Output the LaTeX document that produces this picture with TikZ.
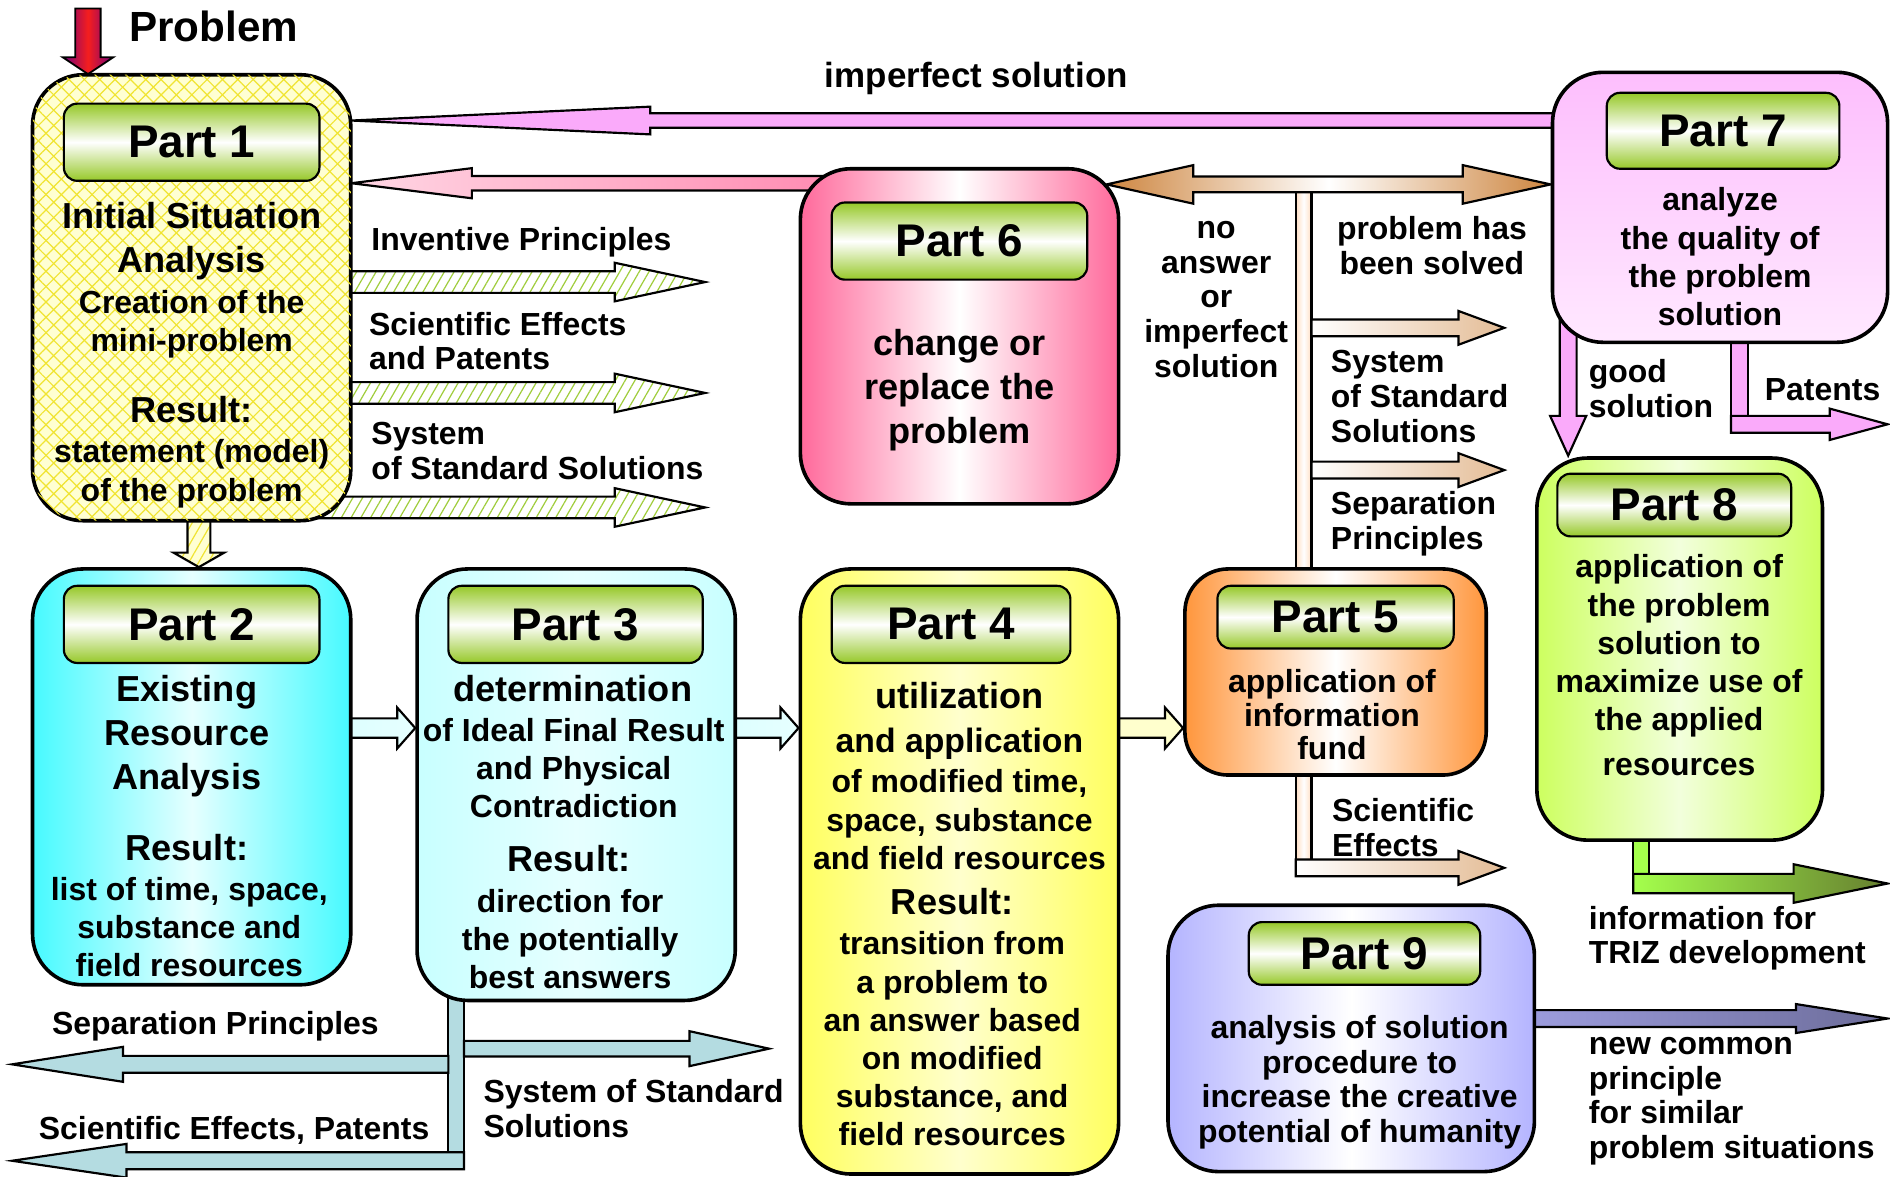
\documentclass[tikz,border=0pt]{standalone}
\usepackage{fontspec}
\setmainfont{Liberation Sans}
\usetikzlibrary{calc, positioning, patterns.meta}
\pgfdeclarelayer{bg}
\pgfsetlayers{bg,main}
\definecolor{tagreen}{RGB}{150,200,40}
\definecolor{paleyel}{RGB}{255,255,210}
\definecolor{hatchyel}{RGB}{240,228,50}
\definecolor{hatchgrn}{RGB}{160,205,60}
\definecolor{cyanside}{RGB}{70,250,255}
\definecolor{cyanmid}{RGB}{230,255,255}
\definecolor{cyanpale}{RGB}{200,255,255}
\definecolor{yelside}{RGB}{255,255,95}
\definecolor{yelmid}{RGB}{255,255,205}
\definecolor{orside}{RGB}{255,150,60}
\definecolor{pinkside}{RGB}{255,105,155}
\definecolor{vioside}{RGB}{253,190,253}
\definecolor{viomid}{RGB}{255,232,255}
\definecolor{limeside}{RGB}{205,255,95}
\definecolor{limemid}{RGB}{242,255,220}
\definecolor{lavside}{RGB}{180,180,255}
\definecolor{arrvio}{RGB}{250,170,250}
\definecolor{arrpink}{RGB}{255,120,165}
\definecolor{peru}{RGB}{205,133,63}
\definecolor{cream}{RGB}{255,222,195}
\definecolor{bluegray}{RGB}{180,220,225}
\definecolor{probred}{RGB}{245,30,30}
\definecolor{probvio}{RGB}{115,0,125}

% [style]{from}{to}{half shaft}{half head}{head length}
\newcommand{\fatarrow}[6][]{%
  \path[#1] let \p1=#2, \p2=#3,
    \n1={atan2(\y2-\y1,\x2-\x1)}, \n2={veclen(\x2-\x1,\y2-\y1)-#6} in
    ($(\p1)+(\n1+90:#4pt)$) -- ($(\p1)+(\n1:\n2)+(\n1+90:#4pt)$)
    -- ($(\p1)+(\n1:\n2)+(\n1+90:#5pt)$) -- (\p2)
    -- ($(\p1)+(\n1:\n2)+(\n1-90:#5pt)$) -- ($(\p1)+(\n1:\n2)+(\n1-90:#4pt)$)
    -- ($(\p1)+(\n1-90:#4pt)$) -- cycle;}

\tikzset{
  part/.style={draw, line width=3pt, rounded corners=42pt, inner sep=0pt},
  sides/.style 2 args={left color=#1, right color=#1, middle color=#2},
  tag/.style={draw, line width=1.8pt, rounded corners=11pt, top color=tagreen,
    bottom color=tagreen, middle color=white, inner sep=0pt,
    font=\fontsize{38}{40}\selectfont\bfseries},
  big/.style={font=\fontsize{30}{36.5}\selectfont\bfseries, align=center, inner sep=0pt},
  small/.style={font=\fontsize{26.5}{31.7}\selectfont\bfseries, align=center, inner sep=0pt},
  side/.style={font=\fontsize{26.5}{28.7}\selectfont\bfseries, align=left, inner sep=0pt},
  fat/.style={draw, line width=1.8pt},
  hatch/.style={draw, line width=1.8pt, preaction={fill=white},
    pattern={Lines[angle=60,distance=7pt,line width=1pt]}, pattern color=hatchgrn},
  branch/.style={fat, left color=white, right color=peru!55},
}

\begin{document}
\begin{tikzpicture}[x=1pt, y=-1pt]
\useasboundingbox (0,0) rectangle (1568,976);

% parts
\node[part, minimum width=264pt, minimum height=370pt, preaction={fill=paleyel},
  pattern={Lines[angle=45,distance=9pt,line width=1pt]}, pattern color=hatchyel,
  postaction={pattern={Lines[angle=-45,distance=9pt,line width=1pt]}, pattern color=hatchyel}]
  (p1) at (159,247) {};
\node[part, sides={cyanside}{cyanmid}, minimum width=264pt, minimum height=345pt] (p2) at (159,644.5) {};
\node[part, sides={cyanpale}{cyanmid}, minimum width=264pt, minimum height=358pt] (p3) at (478,651) {};
\node[part, sides={yelside}{yelmid}, minimum width=264pt, minimum height=502pt] (p4) at (796,723) {};
\node[part, sides={orside}{white}, rounded corners=36pt, minimum width=250pt, minimum height=171pt] (p5) at (1108,557.5) {};
\node[part, sides={pinkside}{white}, minimum width=264pt, minimum height=278pt] (p6) at (796,279) {};
\node[part, top color=vioside, bottom color=viomid, minimum width=278pt, minimum height=224pt] (p7) at (1427,172) {};
\node[part, sides={limeside}{limemid}, minimum width=237pt, minimum height=317pt] (p8) at (1393.5,538.5) {};
\node[part, sides={lavside}{white}, minimum width=304pt, minimum height=221pt] (p9) at (1121,861.5) {};

% part tags
\node[tag, minimum width=212pt, minimum height=64pt] (l1) at (159,118) {Part 1};
\node[tag, minimum width=212pt, minimum height=64pt] (l2) at (159,518) {Part 2};
\node[tag, minimum width=211pt, minimum height=64pt] (l3) at (477.5,518) {Part 3};
\node[tag, minimum width=198pt, minimum height=64pt] (l4) at (789,518) {Part 4};
\node[tag, minimum width=196pt, minimum height=52pt] (l5) at (1108,512) {Part 5};
\node[tag, minimum width=212pt, minimum height=64pt] (l6) at (796,200) {Part 6};
\node[tag, minimum width=193pt, minimum height=63pt] (l7) at (1429.5,108.5) {Part 7};
\node[tag, minimum width=194pt, minimum height=52pt] (l8) at (1389,419) {Part 8};
\node[tag, minimum width=192pt, minimum height=52pt] (l9) at (1132,791) {Part 9};

% texts in the parts
\node[big] (t1a) at (159,200) {Initial Situation\\Analysis};
\node[small] (t1b) at (159,269) {Creation of the\\mini-problem};
\node[big] (t1c) at (159,340) {Result:};
\node[small] (t1d) at (159,393) {statement (model)\\of the problem};
\node[big] (t2a) at (155,611) {Existing\\Resource\\Analysis};
\node[big] (t2b) at (155,703) {Result:};
\node[small] (t2c) at (157,769) {list of time, space,\\substance and\\field resources};
\node[big] (t3a) at (475,571) {determination};
\node[small] (t3b) at (476,637) {of Ideal Final Result\\and Physical\\Contradiction};
\node[big] (t3c) at (472,712) {Result:};
\node[small] (t3d) at (473,779) {direction for\\the potentially\\best answers};
\node[big] (t4a) at (796,577) {utilization};
\node[big, font=\fontsize{28}{30}\selectfont\bfseries] (t4b) at (796,617) {and application};
\node[small] (t4c) at (796,680) {of modified time,\\space, substance\\and field resources};
\node[big] (t4d) at (790,748) {Result:};
\node[small] (t4e) at (790,862) {transition from\\a problem to\\an answer based\\on modified\\substance, and\\field resources};
\node[small, font=\fontsize{26.5}{28}\selectfont\bfseries] (t5) at (1105,593) {application of\\information\\fund};
\node[big] (t6) at (796,324) {change or\\replace the\\problem};
\node[small] (t7) at (1427,213) {analyze\\the quality of\\the problem\\solution};
\node[small] (t8a) at (1393,536) {application of\\the problem\\solution to\\maximize use of\\the applied};
\node[small] (t8b) at (1393,636) {resources};
\node[small, font=\fontsize{26.5}{28.7}\selectfont\bfseries] (t9) at (1128,898) {analysis of solution\\procedure to\\increase the creative\\potential of humanity};

% labels of the connectors
\node[font=\fontsize{35}{37}\selectfont\bfseries, inner sep=0pt, anchor=west] (lprob) at (107,22) {Problem};
\node[font=\fontsize{29}{31}\selectfont\bfseries, inner sep=0pt] (limp) at (810,65) {imperfect solution};
\node[side, anchor=west] (lip) at (308,201) {Inventive Principles};
\node[side, anchor=west] (lse) at (306,283) {Scientific Effects\\and Patents};
\node[side, anchor=west] (lss) at (308,374) {System\\of Standard Solutions};
\node[side, align=center] (lno) at (1009,248.5) {no\\answer\\or\\imperfect\\solution};
\node[side, align=center] (lsol) at (1188,203.5) {problem has\\been solved};
\node[side, anchor=west] (lsys) at (1104,329) {System\\of Standard\\Solutions};
\node[side, anchor=west] (lsp) at (1104,434.5) {Separation\\Principles};
\node[side, anchor=west] (lsci) at (1105,686.5) {Scientific\\Effects};
\node[side, anchor=west] (lgood) at (1318,322.5) {good\\solution};
\node[side, anchor=west] (lpat) at (1464,323) {Patents};
\node[side, anchor=west] (ltriz) at (1318,778.5) {information for\\TRIZ development};
\node[side, anchor=west] (lnew) at (1318,913.5) {new common\\principle\\for similar\\problem situations};
\node[side, anchor=west] (lsepb) at (43,851) {Separation Principles};
\node[side, anchor=west] (lscib) at (32,938) {Scientific Effects, Patents};
\node[side, anchor=west] (lsysb) at (401,919.5) {System of Standard\\Solutions};

% free ends
\coordinate (pin) at (73,7);
\coordinate (ipt) at (585,234);
\coordinate (sept) at (585,326);
\coordinate (ssst) at (585,421);
\coordinate (dl) at (918,153);
\coordinate (dr) at (p7.west |- dl);
\coordinate (bus) at (1081.5,153);
\coordinate (b1) at (1248,272);
\coordinate (b2) at (1248,390);
\coordinate (se) at (1248,720);
\coordinate (gs) at (1301,378);
\coordinate (ptbar) at (1443,352);
\coordinate (pt) at (1566,352);
\coordinate (tzbar) at (1361.5,733);
\coordinate (tz) at (1566,733);
\coordinate (nc) at (1566,845);
\coordinate (bl) at (378.5,963);
\coordinate (spl) at (10,883);
\coordinate (sst) at (638,870);
\coordinate (sfp) at (10,963);

\begin{pgfonlayer}{bg}
\fatarrow[fat, line width=1.5pt, left color=probvio, right color=probvio, middle color=probred]{(pin)}{(pin |- p1.north)}{10.5}{21}{14}
\fatarrow[fat, fill=arrvio]{(p7.center |- 0,100)}{(p1.east |- 0,100)}{6}{11.5}{248}
\fatarrow[fat, left color=arrpink!30, right color=arrpink]{(p6.center |- 0,152)}{(p1.east |- 0,152)}{6}{12.5}{100}
\fatarrow[hatch]{(p1.center |- ipt)}{(ipt)}{9}{16}{75}
\fatarrow[hatch]{(p1.center |- sept)}{(sept)}{9}{16}{75}
\fatarrow[hatch]{(p1.center |- ssst)}{(ssst)}{9}{16}{75}
\fatarrow[hatch, pattern color=hatchyel, preaction={fill=paleyel}]{(p1.center -| 165,0)}{(p2.north -| 165,0)}{9.5}{21}{12}
\fatarrow[fat, left color=cyanpale, right color=cyanmid]{(p2.center |- 0,604)}{(p3.west |- 0,604)}{8}{17}{15}
\fatarrow[fat, left color=cyanpale, right color=cyanmid]{(p3.center |- 0,604)}{(p4.west |- 0,604)}{8}{17}{15}
\fatarrow[fat, fill=yelmid]{(p4.center |- 0,604)}{(p5.west |- 0,604)}{8}{17}{15}
% bus of Part 5
\path[fat, sides={cream}{white}] ($(bus)+(-6.5,0)$) rectangle ($(bus |- p5.center)+(6.5,0)$);
\path[fat, left color=peru, right color=peru, middle color=white]
  (dl) -- ++(72,-16) -- ++(0,9.5) -- ($(dr)+(-73,-6.5)$) -- ++(0,-9.5) -- (dr)
  -- ++(-73,16) -- ++(0,-9.5) -- ($(dl)+(72,6.5)$) -- ++(0,9.5) -- cycle;
\fatarrow[branch]{($(bus |- b1)+(6.5,0)$)}{(b1)}{7}{14}{38}
\fatarrow[branch]{($(bus |- b2)+(6.5,0)$)}{(b2)}{7}{14}{38}
\path[fat, sides={cream}{white}] ($(bus |- p5.center)+(-6.5,0)$) rectangle ($(bus |- se)+(6.5,7)$);
\fatarrow[branch]{($(bus |- se)+(-6.5,0)$)}{(se)}{7}{14}{38}
% Part 7
\fatarrow[fat, fill=arrvio]{(gs |- p7.center)}{(gs)}{7}{15}{33}
\path[fat, fill=arrvio] ($(ptbar |- p7.center)+(-7,0)$) rectangle ($(ptbar)+(7,7)$);
\fatarrow[fat, fill=arrvio]{($(ptbar)+(-7,0)$)}{(pt)}{7}{13}{48}
% Part 8
\path[fat, fill=limeside!80!green] ($(tzbar |- p8.center)+(-6.5,0)$) rectangle ($(tzbar)+(6.5,8)$);
\fatarrow[fat, left color=limeside!80!green, right color=limeside!50!black]{($(tzbar)+(-6.5,0)$)}{(tz)}{8}{16}{78}
% Part 9
\fatarrow[fat, left color=lavside, right color=lavside!60!black]{(p9.center |- nc)}{(nc)}{7}{12}{76}
% under Part 3
\path[fat, fill=bluegray] ($(bl |- p3.center)+(-6.5,0)$) rectangle ($(bl)+(6.5,7)$);
\fatarrow[fat, fill=bluegray]{($(bl |- spl)+(-6.5,0)$)}{(spl)}{7}{14.5}{92}
\fatarrow[fat, fill=bluegray]{($(bl |- sst)+(6.5,0)$)}{(sst)}{6.5}{14.5}{66}
\fatarrow[fat, fill=bluegray]{($(bl)+(6.5,0)$)}{(sfp)}{7}{14}{95}
\end{pgfonlayer}
\end{tikzpicture}
\end{document}
